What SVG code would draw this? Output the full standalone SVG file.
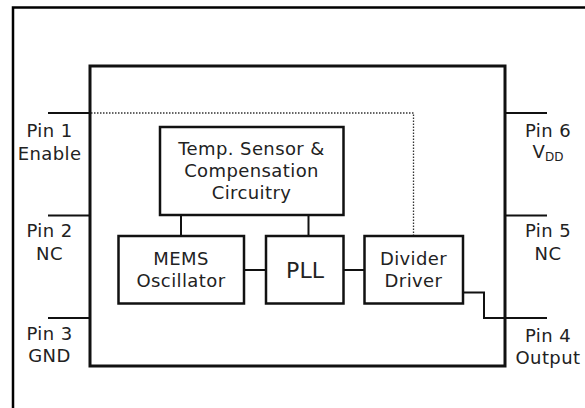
<svg xmlns="http://www.w3.org/2000/svg" width="585" height="408" viewBox="0 0 585 408">
<style>
  text { font-family: "DejaVu Sans", Verdana, sans-serif; font-size: 18px; letter-spacing: 0.4px; fill: #222; text-anchor: middle; }
  .big { font-size: 22px; letter-spacing: 0; }
  .sub { font-size: 12px; letter-spacing: 0; }
  .box { fill: #fff; stroke: #111; stroke-width: 2.5; }
  .wire { fill: none; stroke: #111; stroke-width: 2; }
  .dot { fill: none; stroke: #333; stroke-width: 1.3; stroke-dasharray: 1.5 1.5; }
</style>
<rect x="0" y="0" width="585" height="408" fill="#fff"/>
<rect x="13" y="7.5" width="600" height="420" fill="none" stroke="#000" stroke-width="2.5"/>

<g id="connectors">
  <line class="wire" x1="48" y1="113" x2="90" y2="113"/>
  <line class="wire" x1="48" y1="215.5" x2="90" y2="215.5"/>
  <line class="wire" x1="48" y1="318" x2="90" y2="318"/>
  <line class="wire" x1="505" y1="113" x2="547" y2="113"/>
  <line class="wire" x1="505" y1="215.5" x2="547" y2="215.5"/>
  <polyline class="wire" points="463,292.5 484,292.5 484,318 547,318"/>
  <polyline class="dot" points="91,113 413.5,113 413.5,235"/>
  <line class="wire" x1="181" y1="215" x2="181" y2="236"/>
  <line class="wire" x1="308.5" y1="215" x2="308.5" y2="236"/>
  <line class="wire" x1="244" y1="270" x2="266" y2="270"/>
  <line class="wire" x1="343" y1="270" x2="364.5" y2="270"/>
</g>

<g id="package">
  <rect x="90" y="66" width="415" height="300" fill="none" stroke="#111" stroke-width="3"/>
</g>

<g id="temp">
  <rect class="box" x="160" y="127" width="183.5" height="88"/>
  <text x="251.5" y="155">Temp. Sensor &amp;</text>
  <text x="251.5" y="177">Compensation</text>
  <text x="251.5" y="199">Circuitry</text>
</g>
<g id="mems">
  <rect class="box" x="118.5" y="236" width="125.5" height="67.5"/>
  <text x="181" y="265">MEMS</text>
  <text x="181" y="287">Oscillator</text>
</g>
<g id="pll">
  <rect class="box" x="266" y="236" width="77.5" height="67.5"/>
  <text class="big" x="305" y="277.5">PLL</text>
</g>
<g id="divider">
  <rect class="box" x="364.5" y="236" width="98.5" height="67.5"/>
  <text x="413.5" y="265">Divider</text>
  <text x="413.5" y="287">Driver</text>
</g>

<g id="pin1"><text x="49.5" y="137">Pin 1</text><text x="49.5" y="160">Enable</text></g>
<g id="pin2"><text x="49.5" y="237">Pin 2</text><text x="49.5" y="260">NC</text></g>
<g id="pin3"><text x="49.5" y="340">Pin 3</text><text x="49.5" y="362">GND</text></g>
<g id="pin6"><text x="548" y="137">Pin 6</text><text x="548" y="158">V<tspan class="sub" dy="3">DD</tspan></text></g>
<g id="pin5"><text x="548" y="237">Pin 5</text><text x="548" y="260">NC</text></g>
<g id="pin4"><text x="548" y="342">Pin 4</text><text x="548" y="364">Output</text></g>
</svg>
